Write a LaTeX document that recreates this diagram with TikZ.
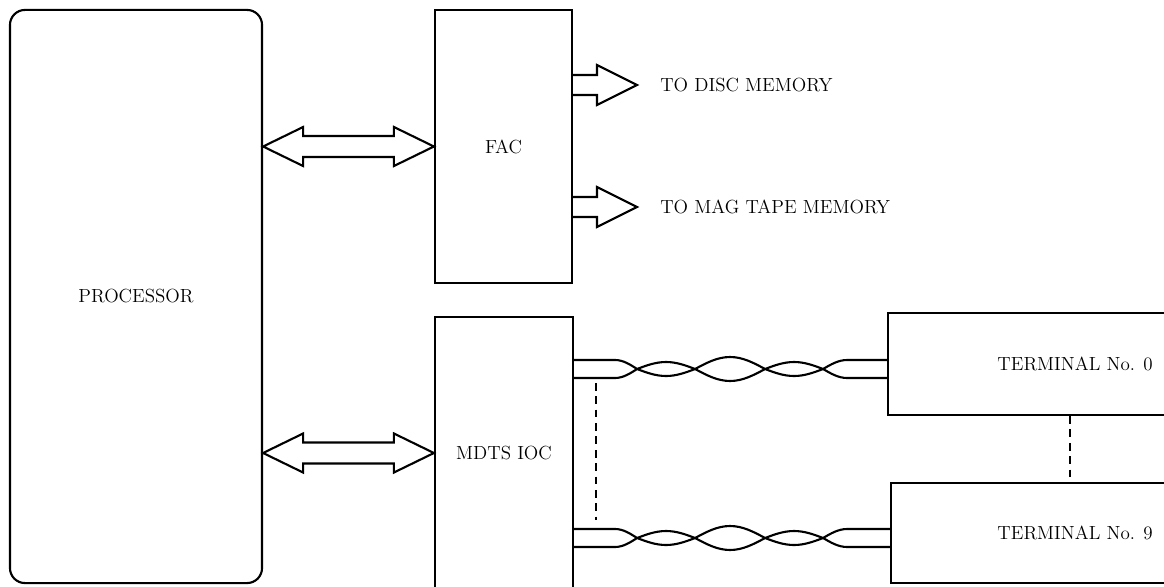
\documentclass[tikz,border=0pt]{standalone}
\usepackage{fontspec}
\usetikzlibrary{arrows.meta, calc, positioning}

\tikzset{
  blk/.style={draw, line width=1.5pt, inner sep=0pt},
  fatline/.style={line width=1.5pt, line join=miter},
  wire/.style={line width=1.5pt},
  dashline/.style={line width=1.5pt, dash pattern=on 5.5pt off 4pt},
}

% wide two-headed arrow between two points on one level
\newcommand{\dblfat}[2]{%
  \draw[fatline] (#1) -- ($(#1)+(40,-19.5)$) -- ($(#1)+(40,-10.5)$)
    -- ($(#2)+(-40,-10.5)$) -- ($(#2)+(-40,-19.5)$) -- (#2)
    -- ($(#2)+(-40,19.5)$) -- ($(#2)+(-40,10.5)$)
    -- ($(#1)+(40,10.5)$) -- ($(#1)+(40,19.5)$) -- cycle;}

% wide one-headed arrow
\newcommand{\onefat}[2]{%
  \draw[fatline] ($(#1)+(0,-10)$) -- ($(#2)+(-40,-10)$) -- ($(#2)+(-40,-20)$)
    -- (#2) -- ($(#2)+(-40,20)$) -- ($(#2)+(-40,10)$) -- ($(#1)+(0,10)$);}

% one wire of a twisted pair (#3 = 1 upper, -1 lower)
\newcommand{\twistwire}[3]{%
  \draw[wire] ($(#1)+(0,-9*#3)$) -- ($(#1)+(41,-9*#3)$)
    cos ($(#1)+(63,0)$) sin ($(#1)+(92,7*#3)$)
    cos ($(#1)+(121,0)$) sin ($(#1)+(156,-12*#3)$)
    cos ($(#1)+(191,0)$) sin ($(#1)+(220,7*#3)$)
    cos ($(#1)+(249,0)$) sin ($(#1)+(273,-9*#3)$)
    -- ($(#2)+(0,-9*#3)$);}

\begin{document}
\begin{tikzpicture}[x=0.025cm, y=-0.025cm,
    font=\fontsize{13.5}{15}\selectfont]
    % Frame
    \path[use as bounding box, clip] (0,0) rectangle (1164,586);

    % Blocks
    \node[blk, rounded corners=0.375cm, minimum width=6.3cm, minimum height=14.325cm] (proc) at (136,296.5) {PROCESSOR};
    \node[blk, minimum width=3.425cm, minimum height=6.825cm] (fac) at (503.5,146.5) {FAC};
    \node[blk, minimum width=3.45cm, minimum height=6.8cm] (ioc) at (504,453) {MDTS IOC};
    \node[blk, minimum width=9.35cm, minimum height=2.55cm] (term0) at (1075,364) {TERMINAL No. 0};
    \node[blk, minimum width=9.2cm, minimum height=2.5cm] (term9) at (1075,533) {TERMINAL No. 9};

    % Processor links
    \coordinate (pfac) at (proc.east |- fac.west);
    \coordinate (pioc) at (proc.east |- ioc.west);
    \dblfat{pfac}{fac.west}
    \dblfat{pioc}{ioc.west}

    % Memory outputs
    \coordinate (disctip) at (637,85);
    \coordinate (tapetip) at (637,207);
    \coordinate (discout) at (fac.east |- disctip);
    \coordinate (tapeout) at (fac.east |- tapetip);
    \onefat{discout}{disctip}
    \onefat{tapeout}{tapetip}
    \node[inner sep=0pt, right=0.575cm of disctip] (disc) {TO DISC MEMORY};
    \node[inner sep=0pt, right=0.575cm of tapetip] (tape) {TO MAG TAPE MEMORY};

    % Twisted pairs
    \coordinate (w0) at ($(ioc.east |- term0.west)+(0,5)$);
    \coordinate (w0e) at ($(term0.west)+(0,5)$);
    \coordinate (w9) at ($(ioc.east |- term9.west)+(0,5)$);
    \coordinate (w9e) at ($(term9.west)+(0,5)$);
    \twistwire{w0}{w0e}{1}
    \twistwire{w0}{w0e}{-1}
    \twistwire{w9}{w9e}{1}
    \twistwire{w9}{w9e}{-1}

    % Dashed continuations
    \draw[dashline] ($(w0)+(22,14)$) -- ($(w9)+(22,-18)$);
    \draw[dashline] ([xshift=-0.125cm]term0.south) -- ([xshift=-0.125cm]term9.north);
\end{tikzpicture}
\end{document}
